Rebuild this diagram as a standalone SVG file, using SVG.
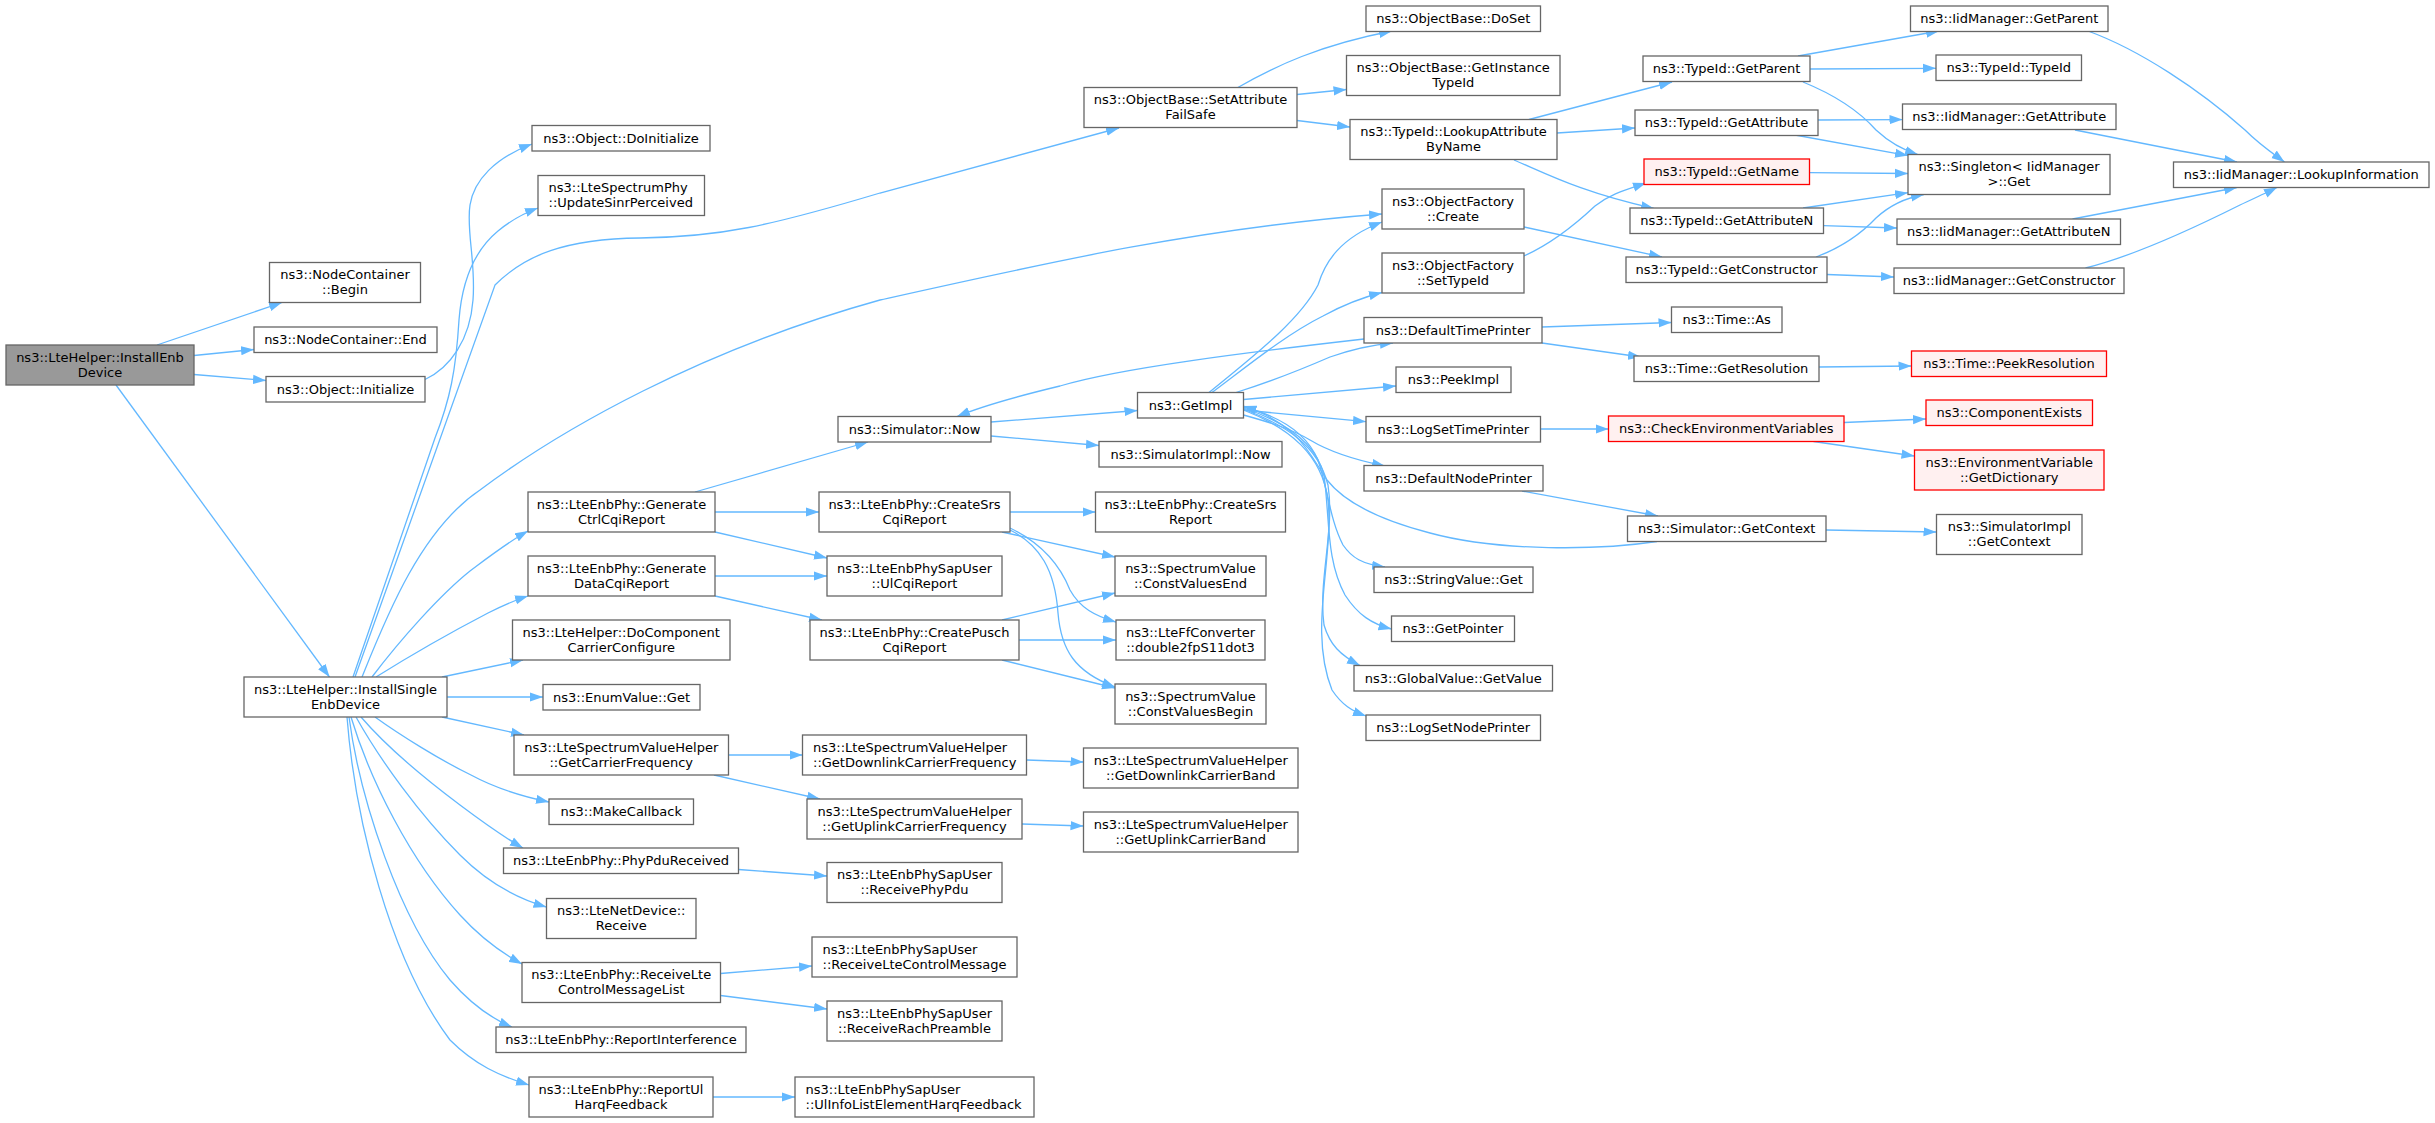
<svg xmlns="http://www.w3.org/2000/svg" width="2435" height="1123" viewBox="0 0 2435 1123">
<style>
.n rect{fill:#ffffff;stroke:#666666;stroke-width:1.3}
.g rect{fill:#999999}
.x rect{fill:#fff0f0;stroke:#ff0000}
text{font-family:"DejaVu Sans","Liberation Sans",sans-serif;font-size:13px;fill:#000000;text-anchor:middle}
text.l{text-anchor:start}
#edges path{fill:none;stroke:#63b8ff;stroke-width:1.3;marker-end:url(#a)}
</style>
<defs>
<marker id="a" markerUnits="userSpaceOnUse" viewBox="0 0 13 10" markerWidth="13" markerHeight="10" refX="13" refY="5" orient="auto"><path d="M0,0.4 L13,5 L0,9.6 z" fill="#63b8ff"/></marker>
</defs>
<rect width="2435" height="1123" fill="#ffffff"/>
<g id="edges">
<path d="M157,345 L282,302.5"/>
<path d="M194,355.5 L254,349.5"/>
<path d="M194,374.5 L266,380.5"/>
<path d="M116,385 L329.5,677"/>
<path d="M425,379.5 C450,368 470,340 473,300 C476,262 466,230 470,205 C474,180 495,158 532,144"/>
<path d="M353,677 L435,438 C450,400 456,370 459,320 C462,280 475,250 498,231 C510,221 522,214 538,208"/>
<path d="M355,677 L495,285 C525,255 565,239 640,238 C720,237 770,226 880,193 L1119,128"/>
<path d="M362,677 C385,620 420,530 480,490 C560,430 700,350 880,300 C1050,262 1200,228 1382,214"/>
<path d="M372,677 C400,640 440,595 470,571 C490,556 508,542 528,531"/>
<path d="M376,677 C400,662 440,638 488,613 C500,607 512,601 528,596"/>
<path d="M442,677 L523,660"/>
<path d="M447,697 L543,697"/>
<path d="M442,717 L524,735"/>
<path d="M375,717 C400,735 440,760 471,775 C495,788 520,796 549,802"/>
<path d="M361,717 C385,745 420,775 460,805 C480,820 500,835 523,848"/>
<path d="M356,717 C380,760 420,815 460,855 C485,880 515,898 546.5,907"/>
<path d="M351,717 C370,780 410,860 460,915 C480,937 500,952 522,964"/>
<path d="M349,717 C360,800 400,920 450,980 C470,1003 490,1018 512,1027"/>
<path d="M347,717 C355,820 390,960 450,1040 C475,1065 500,1076 529,1085"/>
<path d="M695,492 L868,442"/>
<path d="M715,512 L819,512"/>
<path d="M715,532 L827,558"/>
<path d="M715,576 L827,576"/>
<path d="M715,596 L822,620"/>
<path d="M728.5,755 L802.5,755"/>
<path d="M714,775 L820,799"/>
<path d="M1026.5,760 L1083.5,762"/>
<path d="M1022,824 L1083.5,826"/>
<path d="M738.5,869.5 L827,876"/>
<path d="M720.5,973.5 L812,966"/>
<path d="M720.5,995.5 L827,1009"/>
<path d="M713,1097 L795,1097"/>
<path d="M991,422 L1137.5,410.5"/>
<path d="M991,436 L1099,445.5"/>
<path d="M1364,339 C1250,352 1120,368 1060,386 C1010,398 980,407 957,416.5"/>
<path d="M1010,512 L1095.5,512"/>
<path d="M1002,532 L1115,557"/>
<path d="M1010,528 C1035,540 1058,560 1070,590 C1080,608 1095,616 1116,622"/>
<path d="M1010,530 C1040,545 1055,570 1058,613 C1061,650 1075,672 1115,687"/>
<path d="M1002,620 L1115,593"/>
<path d="M1019,640 L1116,640"/>
<path d="M1002,660 L1115,688"/>
<path d="M1237,88 C1275,66 1320,45 1392,31"/>
<path d="M1297,94.5 L1346.5,89.5"/>
<path d="M1297,120.5 L1350,127"/>
<path d="M1529,119.5 L1672,82"/>
<path d="M1557,133 L1635,128"/>
<path d="M1514,160 C1545,173 1580,192 1654,208.5"/>
<path d="M1209,392.5 C1255,355 1300,320 1318,285 C1325,262 1340,238 1382,222"/>
<path d="M1212,392.5 C1245,368 1285,335 1323,316 C1345,304 1360,298 1382,292.5"/>
<path d="M1236,392.5 C1260,385 1300,370 1330,357 C1350,350 1370,345 1393,343"/>
<path d="M1243.5,399.5 L1396,386"/>
<path d="M1243.5,410 L1366,421.7"/>
<path d="M1243.5,415 C1265,421 1290,428 1310,440 C1330,452 1355,460 1385,466"/>
<path d="M1243.5,407 C1275,415 1305,430 1318,460 C1328,490 1330,520 1343,545 C1352,558 1362,564 1385,567"/>
<path d="M1243.5,408 C1280,420 1315,440 1324,475 C1330,520 1326,560 1345,595 C1358,615 1372,624 1391.5,629"/>
<path d="M1243.5,409 C1285,425 1318,445 1328,485 C1335,530 1318,580 1324,625 C1330,645 1340,655 1360,665.5"/>
<path d="M1243.5,410 C1290,428 1322,455 1328,500 C1334,560 1308,630 1332,690 C1342,705 1352,711 1366,716"/>
<path d="M1657,541.5 C1600,550 1500,552 1430,533 C1380,520 1345,503 1327,480 C1310,455 1300,425 1243.5,406"/>
<path d="M1524,227 L1662,257"/>
<path d="M1524,256 C1555,242 1578,222 1595,206 C1610,194 1625,190 1646,183"/>
<path d="M1542,327 L1671.5,322.5"/>
<path d="M1542,343 L1641,357"/>
<path d="M1819,367 L1911.5,366"/>
<path d="M1540.5,429 L1608.5,429"/>
<path d="M1844,422.5 L1926,419"/>
<path d="M1813.5,441.5 L1914.5,456"/>
<path d="M1522,491 L1658,516"/>
<path d="M1826,530 L1936.5,532"/>
<path d="M1798,56 L1939,31"/>
<path d="M1810,69 L1936,68.3"/>
<path d="M1803,82 C1835,95 1860,112 1876,130 C1890,143 1903,150 1918,154.5"/>
<path d="M1818,120 L1902.5,119.6"/>
<path d="M1795,135 L1908,155.6"/>
<path d="M1809.5,172.6 L1908,173.5"/>
<path d="M1803,208 L1908,192.7"/>
<path d="M1823.5,225.6 L1897,228"/>
<path d="M1816,257 C1840,248 1860,235 1876,218 C1890,205 1905,198 1924,194.5"/>
<path d="M1827,274.5 L1894,277"/>
<path d="M2088,31 C2140,50 2200,90 2245,130 C2260,145 2275,155 2284.5,162"/>
<path d="M2075,130 L2237,162"/>
<path d="M2072.5,219 L2237,187.5"/>
<path d="M2085.5,268 C2130,257 2190,230 2240,205 C2255,198 2268,192 2277,187.5"/>
</g>
<g id="n_installenb" class="n g"><rect x="6" y="345" width="188" height="40"/><text x="100" y="361.5">ns3::LteHelper::InstallEnb</text><text x="100" y="376.5">Device</text></g>
<g id="n_nc_begin" class="n"><rect x="269.5" y="262.5" width="151" height="40"/><text x="345" y="279">ns3::NodeContainer</text><text x="345" y="294">::Begin</text></g>
<g id="n_nc_end" class="n"><rect x="254" y="327" width="183" height="25.5"/><text x="345.5" y="344.3">ns3::NodeContainer::End</text></g>
<g id="n_obj_init" class="n"><rect x="266" y="376.5" width="159" height="25.5"/><text x="345.5" y="393.8">ns3::Object::Initialize</text></g>
<g id="n_obj_doinit" class="n"><rect x="532" y="125.5" width="178" height="25.5"/><text x="621" y="142.8">ns3::Object::DoInitialize</text></g>
<g id="n_updsinr" class="n"><rect x="538" y="175.5" width="166.5" height="40"/><text class="l" x="548.5" y="192">ns3::LteSpectrumPhy</text><text class="l" x="548.5" y="207">::UpdateSinrPerceived</text></g>
<g id="n_installsingle" class="n"><rect x="244" y="677" width="203" height="40"/><text x="345.5" y="693.5">ns3::LteHelper::InstallSingle</text><text x="345.5" y="708.5">EnbDevice</text></g>
<g id="n_genctrl" class="n"><rect x="528" y="492" width="187" height="40"/><text x="621.5" y="508.5">ns3::LteEnbPhy::Generate</text><text x="621.5" y="523.5">CtrlCqiReport</text></g>
<g id="n_gendata" class="n"><rect x="528" y="556" width="187" height="40"/><text x="621.5" y="572.5">ns3::LteEnbPhy::Generate</text><text x="621.5" y="587.5">DataCqiReport</text></g>
<g id="n_docc" class="n"><rect x="512.5" y="620" width="217.5" height="40"/><text x="621.25" y="636.5">ns3::LteHelper::DoComponent</text><text x="621.25" y="651.5">CarrierConfigure</text></g>
<g id="n_enumget" class="n"><rect x="543" y="684.5" width="157" height="25.5"/><text x="621.5" y="701.8">ns3::EnumValue::Get</text></g>
<g id="n_getcarrier" class="n"><rect x="514" y="735" width="214.5" height="40"/><text x="621.25" y="751.5">ns3::LteSpectrumValueHelper</text><text x="621.25" y="766.5">::GetCarrierFrequency</text></g>
<g id="n_makecb" class="n"><rect x="549" y="799" width="144.5" height="25.5"/><text x="621.25" y="816.3">ns3::MakeCallback</text></g>
<g id="n_phypdu" class="n"><rect x="503.5" y="848" width="235" height="25.5"/><text x="621" y="865.3">ns3::LteEnbPhy::PhyPduReceived</text></g>
<g id="n_netrecv" class="n"><rect x="546.5" y="898.5" width="149.5" height="40"/><text x="621.25" y="915">ns3::LteNetDevice::</text><text x="621.25" y="930">Receive</text></g>
<g id="n_rcvlte" class="n"><rect x="522" y="962.5" width="198.5" height="40"/><text x="621.25" y="979">ns3::LteEnbPhy::ReceiveLte</text><text x="621.25" y="994">ControlMessageList</text></g>
<g id="n_repint" class="n"><rect x="496" y="1027" width="250" height="25.5"/><text x="621" y="1044.3">ns3::LteEnbPhy::ReportInterference</text></g>
<g id="n_repul" class="n"><rect x="529" y="1077" width="184" height="40"/><text x="621" y="1093.5">ns3::LteEnbPhy::ReportUl</text><text x="621" y="1108.5">HarqFeedback</text></g>
<g id="n_setattr" class="n"><rect x="1084" y="87.5" width="213" height="40"/><text x="1190.5" y="104">ns3::ObjectBase::SetAttribute</text><text x="1190.5" y="119">FailSafe</text></g>
<g id="n_simnow" class="n"><rect x="838" y="416.5" width="153" height="25.5"/><text x="914.5" y="433.8">ns3::Simulator::Now</text></g>
<g id="n_createsrscqi" class="n"><rect x="819" y="492" width="191" height="40"/><text x="914.5" y="508.5">ns3::LteEnbPhy::CreateSrs</text><text x="914.5" y="523.5">CqiReport</text></g>
<g id="n_ulcqi" class="n"><rect x="827" y="556" width="175" height="40"/><text x="914.5" y="572.5">ns3::LteEnbPhySapUser</text><text x="914.5" y="587.5">::UlCqiReport</text></g>
<g id="n_pusch" class="n"><rect x="810" y="620" width="209" height="40"/><text x="914.5" y="636.5">ns3::LteEnbPhy::CreatePusch</text><text x="914.5" y="651.5">CqiReport</text></g>
<g id="n_dlfreq" class="n"><rect x="802.5" y="735" width="224" height="40"/><text class="l" x="813" y="751.5">ns3::LteSpectrumValueHelper</text><text class="l" x="813" y="766.5">::GetDownlinkCarrierFrequency</text></g>
<g id="n_ulfreq" class="n"><rect x="807" y="799" width="215" height="40"/><text x="914.5" y="815.5">ns3::LteSpectrumValueHelper</text><text x="914.5" y="830.5">::GetUplinkCarrierFrequency</text></g>
<g id="n_rcvphypdu" class="n"><rect x="827" y="862.5" width="175" height="40"/><text x="914.5" y="879">ns3::LteEnbPhySapUser</text><text x="914.5" y="894">::ReceivePhyPdu</text></g>
<g id="n_rcvltecm" class="n"><rect x="812" y="937" width="205" height="40"/><text class="l" x="822.5" y="953.5">ns3::LteEnbPhySapUser</text><text class="l" x="822.5" y="968.5">::ReceiveLteControlMessage</text></g>
<g id="n_rcvrach" class="n"><rect x="827" y="1001" width="175" height="40"/><text x="914.5" y="1017.5">ns3::LteEnbPhySapUser</text><text x="914.5" y="1032.5">::ReceiveRachPreamble</text></g>
<g id="n_ulinfo" class="n"><rect x="795" y="1077" width="239" height="40"/><text class="l" x="805.5" y="1093.5">ns3::LteEnbPhySapUser</text><text class="l" x="805.5" y="1108.5">::UlInfoListElementHarqFeedback</text></g>
<g id="n_getimpl" class="n"><rect x="1137.5" y="392.5" width="106" height="25.5"/><text x="1190.5" y="409.8">ns3::GetImpl</text></g>
<g id="n_simimplnow" class="n"><rect x="1099" y="441.5" width="183" height="25.5"/><text x="1190.5" y="458.8">ns3::SimulatorImpl::Now</text></g>
<g id="n_createsrs" class="n"><rect x="1095.5" y="492" width="190" height="40"/><text x="1190.5" y="508.5">ns3::LteEnbPhy::CreateSrs</text><text x="1190.5" y="523.5">Report</text></g>
<g id="n_cvend" class="n"><rect x="1115" y="556" width="151" height="40"/><text x="1190.5" y="572.5">ns3::SpectrumValue</text><text x="1190.5" y="587.5">::ConstValuesEnd</text></g>
<g id="n_d2fp" class="n"><rect x="1116" y="620" width="149" height="40"/><text x="1190.5" y="636.5">ns3::LteFfConverter</text><text x="1190.5" y="651.5">::double2fpS11dot3</text></g>
<g id="n_cvbegin" class="n"><rect x="1115" y="684" width="151" height="40"/><text x="1190.5" y="700.5">ns3::SpectrumValue</text><text x="1190.5" y="715.5">::ConstValuesBegin</text></g>
<g id="n_dlband" class="n"><rect x="1083.5" y="748" width="214.5" height="40"/><text x="1190.75" y="764.5">ns3::LteSpectrumValueHelper</text><text x="1190.75" y="779.5">::GetDownlinkCarrierBand</text></g>
<g id="n_ulband" class="n"><rect x="1083.5" y="812" width="214.5" height="40"/><text x="1190.75" y="828.5">ns3::LteSpectrumValueHelper</text><text x="1190.75" y="843.5">::GetUplinkCarrierBand</text></g>
<g id="n_doset" class="n"><rect x="1366" y="6" width="174.5" height="25.5"/><text x="1453.25" y="23.3">ns3::ObjectBase::DoSet</text></g>
<g id="n_getinst" class="n"><rect x="1346.5" y="55.5" width="213.5" height="40"/><text x="1453.25" y="72">ns3::ObjectBase::GetInstance</text><text x="1453.25" y="87">TypeId</text></g>
<g id="n_lookupattr" class="n"><rect x="1350" y="119.5" width="207" height="40"/><text x="1453.5" y="136">ns3::TypeId::LookupAttribute</text><text x="1453.5" y="151">ByName</text></g>
<g id="n_ofcreate" class="n"><rect x="1382" y="189" width="142" height="40"/><text x="1453" y="205.5">ns3::ObjectFactory</text><text x="1453" y="220.5">::Create</text></g>
<g id="n_ofsettid" class="n"><rect x="1382" y="253" width="142" height="40"/><text x="1453" y="269.5">ns3::ObjectFactory</text><text x="1453" y="284.5">::SetTypeId</text></g>
<g id="n_dtp" class="n"><rect x="1364" y="317.5" width="178" height="25.5"/><text x="1453" y="334.8">ns3::DefaultTimePrinter</text></g>
<g id="n_peekimpl" class="n"><rect x="1396" y="367" width="115" height="25.5"/><text x="1453.5" y="384.3">ns3::PeekImpl</text></g>
<g id="n_logsettp" class="n"><rect x="1366" y="416.5" width="174.5" height="25.5"/><text x="1453.25" y="433.8">ns3::LogSetTimePrinter</text></g>
<g id="n_dnp" class="n"><rect x="1364" y="465.5" width="179" height="25.5"/><text x="1453.5" y="482.8">ns3::DefaultNodePrinter</text></g>
<g id="n_strget" class="n"><rect x="1374" y="567" width="159" height="25.5"/><text x="1453.5" y="584.3">ns3::StringValue::Get</text></g>
<g id="n_getptr" class="n"><rect x="1391.5" y="616" width="123" height="25.5"/><text x="1453" y="633.3">ns3::GetPointer</text></g>
<g id="n_gvget" class="n"><rect x="1354" y="665.5" width="198.5" height="25.5"/><text x="1453.25" y="682.8">ns3::GlobalValue::GetValue</text></g>
<g id="n_logsetnp" class="n"><rect x="1366" y="715" width="174.5" height="25.5"/><text x="1453.25" y="732.3">ns3::LogSetNodePrinter</text></g>
<g id="n_tidparent" class="n"><rect x="1643" y="56" width="167" height="25.5"/><text x="1726.5" y="73.3">ns3::TypeId::GetParent</text></g>
<g id="n_tidattr" class="n"><rect x="1635" y="110" width="183" height="25.5"/><text x="1726.5" y="127.3">ns3::TypeId::GetAttribute</text></g>
<g id="n_tidname" class="n x"><rect x="1644" y="159" width="165.5" height="25.5"/><text x="1726.75" y="176.3">ns3::TypeId::GetName</text></g>
<g id="n_tidattrn" class="n"><rect x="1630" y="208" width="193.5" height="25.5"/><text x="1726.75" y="225.3">ns3::TypeId::GetAttributeN</text></g>
<g id="n_tidctor" class="n"><rect x="1626" y="257" width="201" height="25.5"/><text x="1726.5" y="274.3">ns3::TypeId::GetConstructor</text></g>
<g id="n_timeas" class="n"><rect x="1671.5" y="307" width="110.5" height="25.5"/><text x="1726.75" y="324.3">ns3::Time::As</text></g>
<g id="n_timeres" class="n"><rect x="1634" y="356" width="185" height="25.5"/><text x="1726.5" y="373.3">ns3::Time::GetResolution</text></g>
<g id="n_checkenv" class="n x"><rect x="1608.5" y="416" width="235.5" height="25.5"/><text x="1726.25" y="433.3">ns3::CheckEnvironmentVariables</text></g>
<g id="n_simgetctx" class="n"><rect x="1627.5" y="516" width="198.5" height="25.5"/><text x="1726.75" y="533.3">ns3::Simulator::GetContext</text></g>
<g id="n_iidparent" class="n"><rect x="1910.5" y="6" width="197.5" height="25.5"/><text x="2009.25" y="23.3">ns3::IidManager::GetParent</text></g>
<g id="n_tidtid" class="n"><rect x="1936" y="55" width="145.5" height="25.5"/><text x="2008.75" y="72.3">ns3::TypeId::TypeId</text></g>
<g id="n_iidattr" class="n"><rect x="1902.5" y="104" width="213.5" height="25.5"/><text x="2009.25" y="121.3">ns3::IidManager::GetAttribute</text></g>
<g id="n_singleton" class="n"><rect x="1908" y="154.5" width="202" height="40"/><text x="2009" y="171">ns3::Singleton&lt; IidManager</text><text x="2009" y="186">&gt;::Get</text></g>
<g id="n_iidattrn" class="n"><rect x="1897" y="219" width="223.5" height="25.5"/><text x="2008.75" y="236.3">ns3::IidManager::GetAttributeN</text></g>
<g id="n_iidctor" class="n"><rect x="1894" y="268" width="230" height="25.5"/><text x="2009" y="285.3">ns3::IidManager::GetConstructor</text></g>
<g id="n_peekres" class="n x"><rect x="1911.5" y="351" width="195" height="25.5"/><text x="2009" y="368.3">ns3::Time::PeekResolution</text></g>
<g id="n_compexists" class="n x"><rect x="1926" y="400" width="166.5" height="25.5"/><text x="2009.25" y="417.3">ns3::ComponentExists</text></g>
<g id="n_envdict" class="n x"><rect x="1914.5" y="450" width="189.5" height="40"/><text x="2009.25" y="466.5">ns3::EnvironmentVariable</text><text x="2009.25" y="481.5">::GetDictionary</text></g>
<g id="n_simimplctx" class="n"><rect x="1936.5" y="514.5" width="145.5" height="40"/><text x="2009.25" y="531">ns3::SimulatorImpl</text><text x="2009.25" y="546">::GetContext</text></g>
<g id="n_lookupinfo" class="n"><rect x="2173.5" y="162" width="255.5" height="25.5"/><text x="2301.25" y="179.3">ns3::IidManager::LookupInformation</text></g>
</svg>
